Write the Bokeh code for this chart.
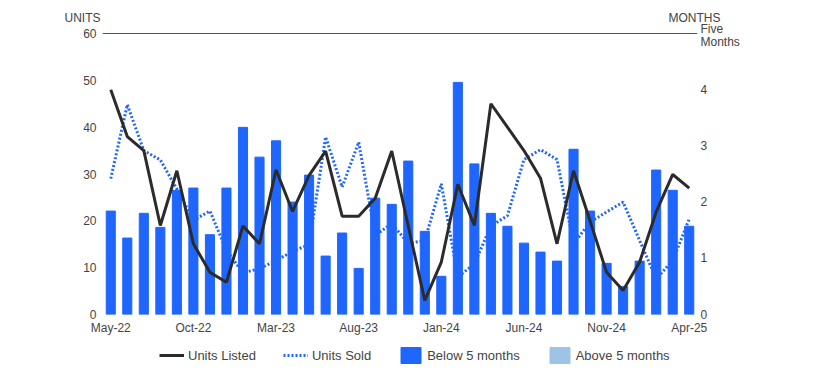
import math
from bokeh.plotting import figure
from bokeh.layouts import column
from bokeh.models import (ColumnDataSource, Range1d, LinearAxis, FixedTicker, Span,
                          Legend, LegendItem)
from bokeh.embed import file_html
from bokeh.resources import INLINE

months = ["May-22","Jun-22","Jul-22","Aug-22","Sep-22","Oct-22","Nov-22","Dec-22",
          "Jan-23","Feb-23","Mar-23","Apr-23","May-23","Jun-23","Jul-23","Aug-23",
          "Sep-23","Oct-23","Nov-23","Dec-23","Jan-24","Feb-24","Mar-24","Apr-24",
          "May-24","Jun-24","Jul-24","Aug-24","Sep-24","Oct-24","Nov-24","Dec-24",
          "Jan-25","Feb-25","Mar-25","Apr-25"]
shown_labels = ["May-22","Oct-22","Mar-23","Aug-23","Jan-24","Jun-24","Nov-24","Apr-25"]

months_inventory = [1.84,1.36,1.80,1.55,2.21,2.25,1.42,2.25,3.33,2.80,3.09,2.00,
                    2.48,1.04,1.45,0.82,2.07,1.96,2.73,1.48,0.68,4.13,2.68,1.80,
                    1.57,1.27,1.11,0.95,2.94,1.84,0.91,0.50,0.95,2.57,2.21,1.57]
units_listed = [48,38,35,19,30.7,15.1,9,6.9,18.9,15.1,30.9,22,
                29.7,34.9,21,21,24.8,34.9,18.9,3,11.2,27.8,19,45,
                40,35,29.1,15.1,30.7,20,9,5.1,11.2,21.9,29.9,27]
units_sold = [29,44.8,35,33,26.8,20.1,22.1,13.7,8.9,9.8,11.5,13.5,
              14.9,37.9,27.2,36.8,16.9,19.4,15.2,15.8,27.9,8,10.8,18.9,
              21.1,33.1,35.2,33.1,15.1,19.7,21.9,24,15.8,7.6,11.5,20.4]

left_ticks = [0,10,20,30,40,50,60]
right_ticks = [0,1,2,3,4]
units_max = 60
months_max = 5
threshold = 5

TXT = "#444444"
FONT = "Liberation Sans"
BLUE = "#1f66ff"
LIGHT = "#9dc3e6"
DARK = "#2b2b2b"

# layout (pixels)
W = 805
TOP_H = 23           # strip with the UNITS / MONTHS headings
GAP = 10             # frame space above the 60 / five-month line
FRAME_W, FRAME_H = 595, 291
L_BORDER, R_BORDER, B_BORDER = 102, 108, 22
LEG_H = 30

px_per_unit = (FRAME_H - GAP) / units_max
px_per_month = (FRAME_H - GAP) / months_max
y_end = units_max + GAP / px_per_unit
m_end = months_max + GAP / px_per_month

idx = list(range(len(months)))
below_v = [v if v < threshold else math.nan for v in months_inventory]
above_v = [v if v >= threshold else math.nan for v in months_inventory]
src = ColumnDataSource(dict(x=idx, below=below_v, above=above_v,
                            listed=units_listed, sold=units_sold))

# ---------- heading strip (axis titles) ----------
p_top = figure(width=W, height=TOP_H, output_backend="svg", toolbar_location=None,
               x_axis_location=None, y_axis_location=None,
               x_range=Range1d(0, 1), y_range=Range1d(0, 1),
               min_border_left=0, min_border_right=0, min_border_top=11, min_border_bottom=0)
p_top.outline_line_color = None
p_top.grid.visible = False


def heading_axis(text, standoff):
    return LinearAxis(ticker=FixedTicker(ticks=[]), axis_label=text,
                      axis_label_orientation="horizontal", axis_label_standoff=standoff,
                      axis_label_text_font=FONT, axis_label_text_font_size="12px",
                      axis_label_text_font_style="normal", axis_label_text_color=TXT,
                      axis_line_color=None, major_tick_line_color=None,
                      minor_tick_line_color=None, major_tick_out=0, minor_tick_out=0,
                      major_tick_in=0, minor_tick_in=0)


p_top.add_layout(heading_axis("UNITS", 2), "left")
p_top.add_layout(heading_axis("MONTHS", -29), "right")

# ---------- main chart ----------
p = figure(x_range=Range1d(-0.5, len(months) - 0.5), y_range=Range1d(0, y_end),
           frame_width=FRAME_W, frame_height=FRAME_H,
           output_backend="svg", toolbar_location=None,
           min_border_left=L_BORDER, min_border_right=R_BORDER,
           min_border_top=0, min_border_bottom=B_BORDER)
p.outline_line_color = None
p.xgrid.grid_line_color = None
p.ygrid.grid_line_color = None
p.extra_y_ranges = {"months": Range1d(0, m_end)}

five_pos = months_max + 5 / px_per_month      # "Five" line just above the 5-month level
months_pos = months_max - 8 / px_per_month    # "Months" line just below it
p.yaxis.ticker = FixedTicker(ticks=left_ticks)
ax_r = LinearAxis(y_range_name="months",
                  ticker=FixedTicker(ticks=right_ticks + [five_pos, months_pos]),
                  major_label_overrides={five_pos: "Five", months_pos: "Months"})
p.add_layout(ax_r, "right")
p.xaxis.ticker = FixedTicker(ticks=[months.index(m) for m in shown_labels])
p.xaxis.major_label_overrides = {months.index(m): m for m in shown_labels}
for ax in [p.yaxis[0], ax_r, p.xaxis[0]]:
    ax.axis_line_color = None
    ax.major_tick_line_color = None
    ax.minor_tick_line_color = None
    ax.major_tick_out = 0
    ax.major_tick_in = 0
    ax.minor_tick_out = 0
    ax.minor_tick_in = 0
    ax.major_label_text_color = TXT
    ax.major_label_text_font = FONT
    ax.major_label_text_font_size = "12px"
p.yaxis[0].major_label_standoff = 6
ax_r.major_label_standoff = 3
p.xaxis[0].major_label_standoff = 6

p.add_layout(Span(location=units_max, dimension="width", line_color="#555555", line_width=1))

rb = p.vbar(x="x", top="below", width=0.55, source=src, color=BLUE, y_range_name="months")
ra = p.vbar(x="x", top="above", width=0.55, source=src, color=LIGHT, y_range_name="months")
rs = p.line(x="x", y="sold", source=src, line_color=BLUE, line_width=3, line_dash="2 2")
rl = p.line(x="x", y="listed", source=src, line_color=DARK, line_width=3)

# ---------- legend strip ----------
p_leg = figure(width=W, height=LEG_H, output_backend="svg", toolbar_location=None,
               x_axis_location=None, y_axis_location=None, min_border=0,
               x_range=Range1d(-0.5, len(months) - 0.5), y_range=Range1d(1000, 1001))
p_leg.outline_line_color = None
p_leg.grid.visible = False
lb = p_leg.vbar(x="x", top="below", width=0.55, source=src, color=BLUE)
la = p_leg.vbar(x="x", top="above", width=0.55, source=src, color=LIGHT)
ls = p_leg.line(x="x", y="sold", source=src, line_color=BLUE, line_width=3, line_dash="2 2")
ll = p_leg.line(x="x", y="listed", source=src, line_color=DARK, line_width=3)
legend = Legend(items=[LegendItem(label="Units Listed", renderers=[ll]),
                       LegendItem(label="Units Sold", renderers=[ls]),
                       LegendItem(label="Below 5 months", renderers=[lb]),
                       LegendItem(label="Above 5 months", renderers=[la])],
                orientation="horizontal", location=(57, 2),
                border_line_color=None, background_fill_alpha=0,
                label_text_font=FONT, label_text_font_size="13px", label_text_color=TXT,
                glyph_width=25, glyph_height=20, label_height=20,
                label_standoff=4, spacing=27, padding=0, margin=0)
p_leg.add_layout(legend)

layout = column(p_top, p, p_leg, spacing=0)
open("out.html", "w").write(file_html(layout, INLINE))
